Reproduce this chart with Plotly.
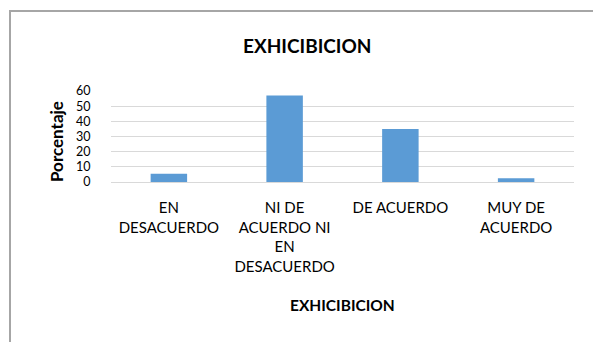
import plotly.graph_objects as go

categories = ["EN DESACUERDO", "NI DE ACUERDO NI EN DESACUERDO", "DE ACUERDO", "MUY DE ACUERDO"]
tick_labels = ["EN<br>DESACUERDO", "NI DE<br>ACUERDO NI<br>EN<br>DESACUERDO", "DE ACUERDO", "MUY DE<br>ACUERDO"]
values = [5.5, 57.0, 35.0, 2.5]
y_ticks = [0, 10, 20, 30, 40, 50, 60]

W, H = 593, 342
L, R, T, B = 111, 19, 91, 160
pw = W - L - R
ph = H - T - B

FONT = "Lato"

fig = go.Figure(go.Bar(x=categories, y=values, marker=dict(color="#5B9BD5", line=dict(width=0)), width=0.315))

fig.update_layout(
    width=W, height=H,
    margin=dict(l=L, r=R, t=T, b=B),
    paper_bgcolor="white", plot_bgcolor="white",
    showlegend=False,
    font=dict(family=FONT, color="#000000"),
    xaxis=dict(
        tickmode="array", tickvals=categories, ticktext=tick_labels,
        tickfont=dict(family=FONT, size=15, color="#000000"),
        ticks="outside", ticklen=12, tickcolor="rgba(0,0,0,0)",
        showgrid=False, showline=False, zeroline=False,
    ),
    yaxis=dict(
        range=[0, 60], tickmode="array", tickvals=y_ticks,
        tickfont=dict(family=FONT, size=12.5, color="#000000"),
        ticks="outside", ticklen=17, tickcolor="rgba(0,0,0,0)",
        showgrid=True, gridcolor="#D9D9D9", gridwidth=1,
        zeroline=True, zerolinecolor="#D9D9D9", zerolinewidth=1,
        showline=False,
    ),
    annotations=[
        dict(text="<b>EXHICIBICION</b>", xref="paper", yref="paper",
             x=(306.5 - L) / pw, y=(H - B - 45) / ph, showarrow=False,
             xanchor="center", yanchor="middle", font=dict(family=FONT, size=19, color="#000000")),
        dict(text="<b>EXHICIBICION</b>", xref="paper", yref="paper",
             x=(342 - L) / pw, y=(H - B - 305) / ph, showarrow=False,
             xanchor="center", yanchor="middle", font=dict(family=FONT, size=15.5, color="#000000")),
        dict(text="<b>Porcentaje</b>", xref="paper", yref="paper",
             x=(56 - L) / pw, y=(H - B - 142) / ph, showarrow=False, textangle=-90,
             xanchor="center", yanchor="middle", font=dict(family=FONT, size=17, color="#000000")),
    ],
    shapes=[
        dict(type="rect", xref="paper", yref="paper",
             x0=(10 - L) / pw, x1=(640 - L) / pw,
             y0=(H - B - 400) / ph, y1=(H - B - 11) / ph,
             line=dict(color="#A6A6A6", width=2), fillcolor="rgba(0,0,0,0)", layer="below"),
    ],
)

fig.write_html("out.html")
